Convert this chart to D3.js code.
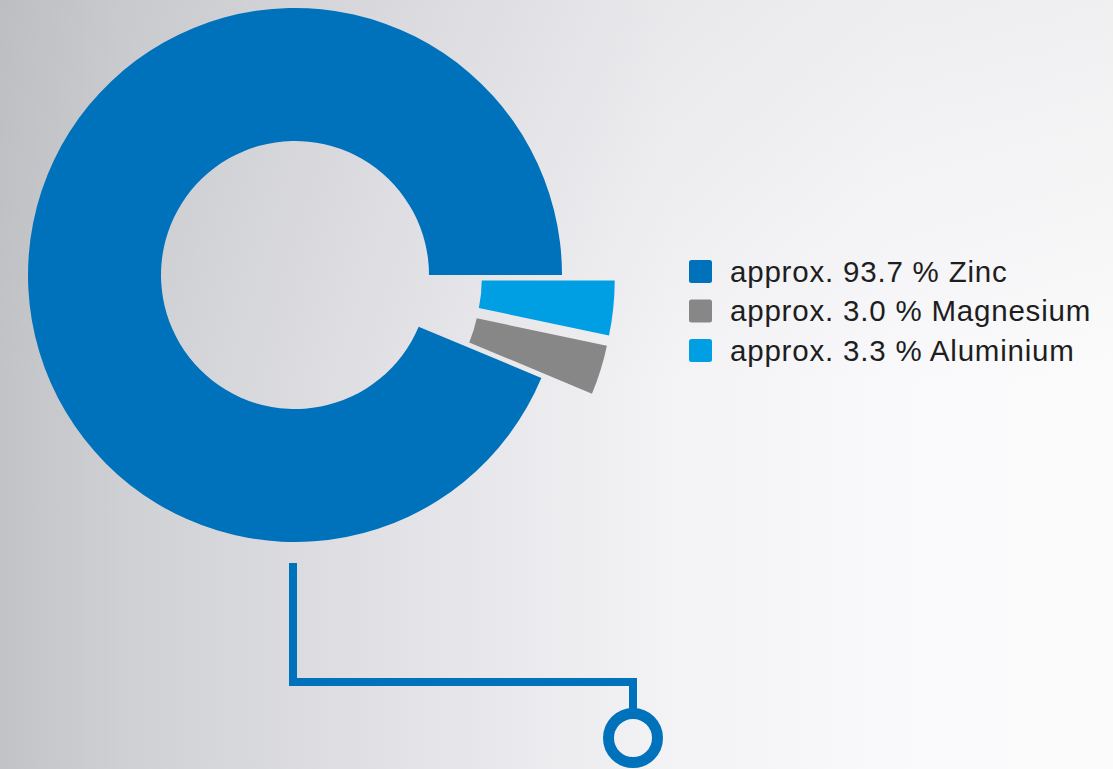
<!DOCTYPE html>
<html>
<head>
<meta charset="utf-8">
<script src="https://cdn.jsdelivr.net/npm/d3@7"></script>
<style>
  html, body { margin: 0; padding: 0; overflow: hidden; }
  svg { display: block; }
</style>
</head>
<body>
<svg id="chart" width="1113" height="769"></svg>
<script>
// ---- data ----
const categories = ["Zinc", "Magnesium", "Aluminium"];
const values = [93.7, 3.0, 3.3];
const labels = ["approx. 93.7 % Zinc", "approx. 3.0 % Magnesium", "approx. 3.3 % Aluminium"];
const colors = ["#0072bb", "#878787", "#009fe3"];
const exploded = [false, true, true];

const W = 1113, H = 769;
const svg = d3.select("#chart");

// background gradient
const defs = svg.append("defs");
const grad = defs.append("linearGradient").attr("id", "bg").attr("x1", 0).attr("x2", 1).attr("y1", 0).attr("y2", 0);
[[0, "#c2c3c7"], [0.12, "#d0d1d5"], [0.35, "#e2e2e6"], [0.6, "#f3f3f6"], [0.8, "#f9f9fb"], [1, "#fbfbfc"]]
  .forEach(([o, c]) => grad.append("stop").attr("offset", o).attr("stop-color", c));
svg.append("rect").attr("width", W).attr("height", H).attr("fill", "url(#bg)");
const grad2 = defs.append("linearGradient").attr("id", "bgv").attr("x1", 0).attr("x2", 0).attr("y1", 0).attr("y2", 1);
grad2.append("stop").attr("offset", 0).attr("stop-color", "#9a9ba0").attr("stop-opacity", 0.12);
grad2.append("stop").attr("offset", 0.5).attr("stop-color", "#9a9ba0").attr("stop-opacity", 0);
svg.append("rect").attr("width", W).attr("height", H).attr("fill", "url(#bgv)");

// donut
const cx = 295, cy = 275, rOuter = 267, rInner = 134, explode = 53;
const items = categories.map((c, i) => ({ cat: c, value: values[i], color: colors[i], exploded: exploded[i] }));
// draw order clockwise from 3 o'clock: Aluminium, Magnesium, Zinc
const pieOrder = ["Aluminium", "Magnesium", "Zinc"];
const pie = d3.pie()
  .value(d => d.value)
  .sort((a, b) => pieOrder.indexOf(a.cat) - pieOrder.indexOf(b.cat))
  .startAngle(Math.PI / 2)
  .endAngle(Math.PI / 2 + 2 * Math.PI);
const arc = d3.arc().innerRadius(rInner).outerRadius(rOuter);

const g = svg.append("g").attr("transform", `translate(${cx},${cy})`);
g.selectAll("path.slice")
  .data(pie(items))
  .join("path")
  .attr("class", "slice")
  .attr("fill", d => d.data.color)
  .attr("d", arc)
  .attr("transform", d => {
    if (!d.data.exploded) return null;
    const a = (d.startAngle + d.endAngle) / 2;
    return `translate(${explode * Math.sin(a)},${-explode * Math.cos(a)})`;
  });

// legend
const lx = 689, ly = 260, step = 39.5;
const leg = svg.append("g");
const rows = leg.selectAll("g").data(items).join("g")
  .attr("transform", (d, i) => `translate(${lx},${ly + i * step})`);
rows.append("rect").attr("width", 23).attr("height", 23).attr("rx", 2.5)
  .attr("fill", d => d.color);
rows.append("text")
  .attr("x", 41).attr("y", 21.5)
  .attr("font-family", "'Liberation Sans', Arial, Helvetica, sans-serif")
  .attr("font-size", 29.5)
  .attr("letter-spacing", 0.8)
  .attr("fill", "#1e1e1e")
  .text((d, i) => labels[i]);

// connector
const blue = colors[0];
svg.append("path")
  .attr("d", "M293,563 V682 H633 V712")
  .attr("fill", "none").attr("stroke", blue).attr("stroke-width", 8);
svg.append("circle").attr("cx", 633).attr("cy", 738).attr("r", 24.5)
  .attr("fill", "none").attr("stroke", blue).attr("stroke-width", 11);
</script>
</body>
</html>
